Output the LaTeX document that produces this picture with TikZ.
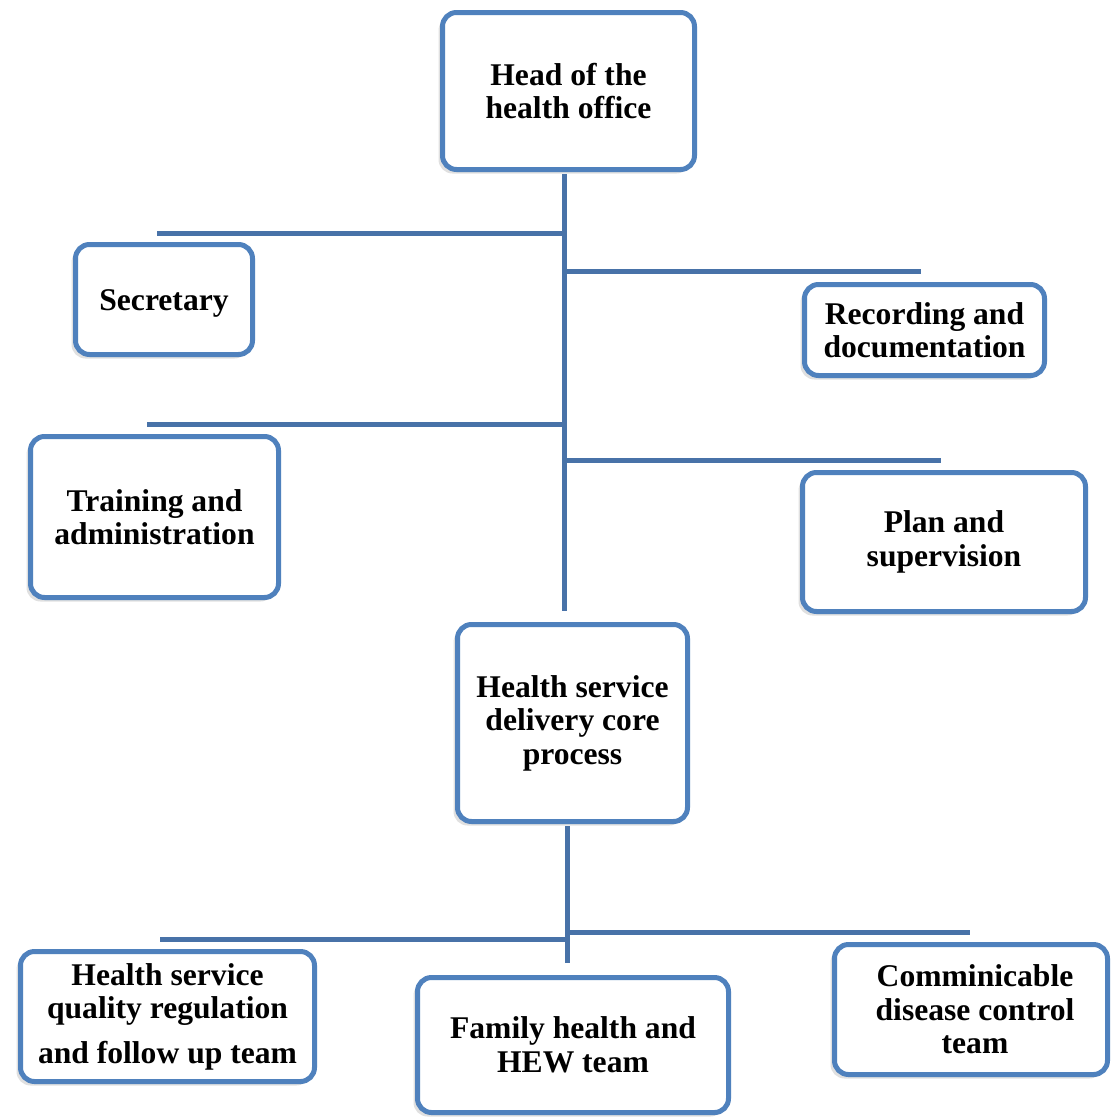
\documentclass[tikz,border=0pt]{standalone}
\usepackage{fontspec}
\setmainfont{Liberation Serif}
\usetikzlibrary{shadows}
\definecolor{boxblue}{HTML}{4F81BD}
\definecolor{lineblue}{HTML}{4872A8}
\begin{document}
\begin{tikzpicture}[x=1pt,y=-1pt,
  orgbox/.style={draw=boxblue, line width=5pt, rounded corners=14pt, fill=white,
    align=center, inner sep=0pt, font=\fontsize{31.6}{33.5}\selectfont\bfseries,
    execute at begin node={\rule{0pt}{29pt}},
    drop shadow={shadow xshift=-4pt, shadow yshift=-4pt, opacity=0.12, fill=black}},
  conn/.style={draw=lineblue, line width=5pt}]
\useasboundingbox (0,0) rectangle (1111,1117);
\fill[white] (0,0) rectangle (1111,1117);

% boxes
\node[orgbox, minimum width=252pt, minimum height=157pt] (head) at (568.5,91) {Head of the\\health office};
\node[orgbox, minimum width=177pt, minimum height=110pt] (sec) at (164,299.5) {Secretary};
\node[orgbox, minimum width=240pt, minimum height=91pt] (rec) at (924.5,330) {Recording and\\documentation};
\node[orgbox, minimum width=248pt, minimum height=161pt] (train) at (154.5,517) {Training and\\administration};
\node[orgbox, minimum width=283pt, minimum height=139pt] (plan) at (944,542) {Plan and\\supervision};
\node[orgbox, minimum width=230pt, minimum height=197pt] (hsd) at (572.5,723) {Health service\\delivery core\\process};
\node[orgbox, minimum width=294pt, minimum height=130pt] (qual) at (167.5,1016.5) {Health service\\quality regulation\\[11pt]and follow up team};
\node[orgbox, minimum width=311pt, minimum height=135pt] (fam) at (573,1045) {Family health and\\HEW team};
\node[orgbox, minimum width=273pt, minimum height=130pt] (comm) at (971,1009.5) {\hspace*{8pt}Comminicable\\\hspace*{8pt}disease control\\\hspace*{8pt}team};

% upper trunk
\coordinate (ttop) at (564,174);
\coordinate (tbot) at (564,611);
\coordinate (j1) at (564,233);
\coordinate (e1) at (157,233);
\coordinate (j2) at (564,271);
\coordinate (e2) at (921,271);
\coordinate (j3) at (564,424);
\coordinate (e3) at (147,424);
\coordinate (j4) at (564,460);
\coordinate (e4) at (941,460);
\draw[conn] (ttop) -- (tbot);
\draw[conn] (j1) -- (e1);
\draw[conn] (j2) -- (e2);
\draw[conn] (j3) -- (e3);
\draw[conn] (j4) -- (e4);

% lower trunk
\coordinate (btop) at (567,826);
\coordinate (bbot) at (567,963);
\coordinate (j5) at (567,939);
\coordinate (e5) at (160,939);
\coordinate (j6) at (567,932);
\coordinate (e6) at (970,932);
\draw[conn] (btop) -- (bbot);
\draw[conn] (j5) -- (e5);
\draw[conn] (j6) -- (e6);
\end{tikzpicture}
\end{document}
